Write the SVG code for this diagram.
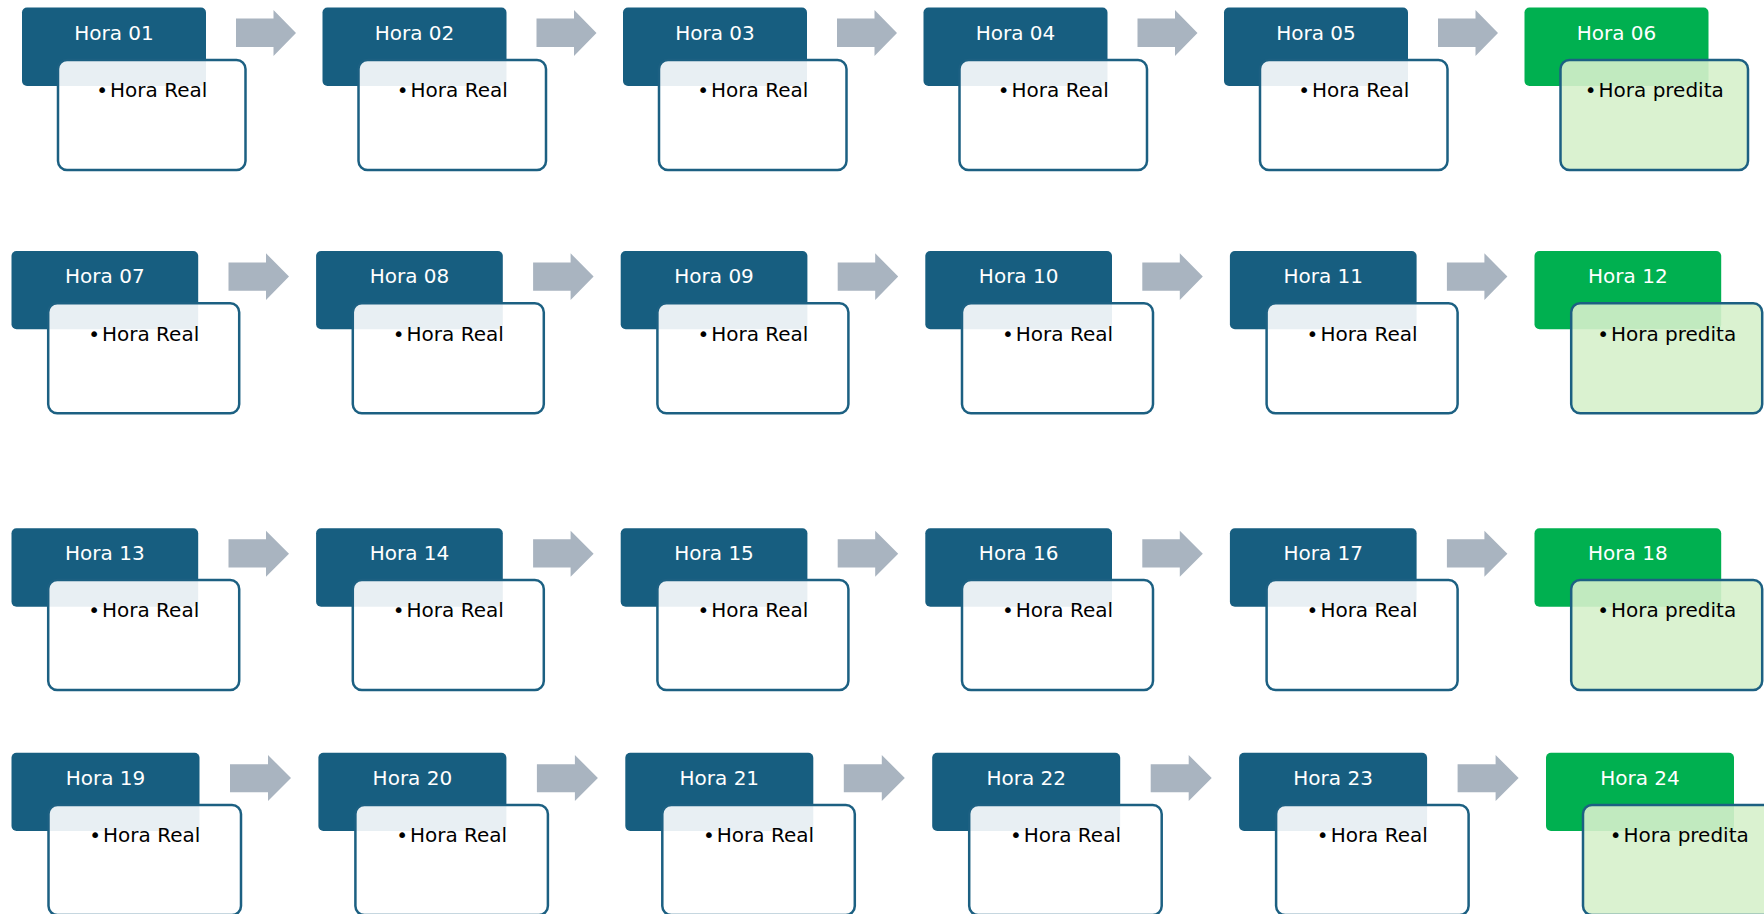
<svg xmlns="http://www.w3.org/2000/svg" width="1764" height="914" viewBox="0 0 1764 914">
  <style>
    .hdr { fill: #175E80; }
    .hdr.pred { fill: #00B050; }
    .body { fill: #FFFFFF; fill-opacity: 0.9; stroke: #1C6082; stroke-width: 2.5; }
    .body.pred { fill: #D6F1CB; }
    .arrow { fill: #A9B4C0; }
    .ht { font-family: "DejaVu Sans", "Liberation Sans", sans-serif; font-size: 20px; fill: #FFFFFF; text-anchor: middle; }
    .bt { font-family: "DejaVu Sans", "Liberation Sans", sans-serif; font-size: 20px; fill: #000000; text-anchor: middle; }
  </style>
  <rect width="1764" height="914" fill="#FFFFFF"/>

  <!-- arrows between consecutive hours -->
  <g id="connectors">
    <!-- row 1 -->
    <polygon class="arrow" points="236,18.5 273.5,18.5 273.5,10 296,33 273.5,56 273.5,47 236,47"/>
    <polygon class="arrow" points="536.5,18.5 574,18.5 574,10 596.5,33 574,56 574,47 536.5,47"/>
    <polygon class="arrow" points="837,18.5 874.5,18.5 874.5,10 897,33 874.5,56 874.5,47 837,47"/>
    <polygon class="arrow" points="1137.5,18.5 1175,18.5 1175,10 1197.5,33 1175,56 1175,47 1137.5,47"/>
    <polygon class="arrow" points="1438,18.5 1475.5,18.5 1475.5,10 1498,33 1475.5,56 1475.5,47 1438,47"/>
    <!-- row 2 -->
    <polygon class="arrow" points="228.5,262.5 266,262.5 266,253.3 289,276.6 266,300 266,290.8 228.5,290.8"/>
    <polygon class="arrow" points="533.1,262.5 570.6,262.5 570.6,253.3 593.6,276.6 570.6,300 570.6,290.8 533.1,290.8"/>
    <polygon class="arrow" points="837.7,262.5 875.2,262.5 875.2,253.3 898.2,276.6 875.2,300 875.2,290.8 837.7,290.8"/>
    <polygon class="arrow" points="1142.3,262.5 1179.8,262.5 1179.8,253.3 1202.8,276.6 1179.8,300 1179.8,290.8 1142.3,290.8"/>
    <polygon class="arrow" points="1446.9,262.5 1484.4,262.5 1484.4,253.3 1507.4,276.6 1484.4,300 1484.4,290.8 1446.9,290.8"/>
    <!-- row 3 -->
    <polygon class="arrow" points="228.5,539.3 266,539.3 266,530.7 289,553.7 266,576.7 266,567.5 228.5,567.5"/>
    <polygon class="arrow" points="533.1,539.3 570.6,539.3 570.6,530.7 593.6,553.7 570.6,576.7 570.6,567.5 533.1,567.5"/>
    <polygon class="arrow" points="837.7,539.3 875.2,539.3 875.2,530.7 898.2,553.7 875.2,576.7 875.2,567.5 837.7,567.5"/>
    <polygon class="arrow" points="1142.3,539.3 1179.8,539.3 1179.8,530.7 1202.8,553.7 1179.8,576.7 1179.8,567.5 1142.3,567.5"/>
    <polygon class="arrow" points="1446.9,539.3 1484.4,539.3 1484.4,530.7 1507.4,553.7 1484.4,576.7 1484.4,567.5 1446.9,567.5"/>
    <!-- row 4 -->
    <polygon class="arrow" points="230,764.3 268,764.3 268,755 291,778 268,801 268,792.3 230,792.3"/>
    <polygon class="arrow" points="536.9,764.3 574.9,764.3 574.9,755 597.9,778 574.9,801 574.9,792.3 536.9,792.3"/>
    <polygon class="arrow" points="843.8,764.3 881.8,764.3 881.8,755 904.8,778 881.8,801 881.8,792.3 843.8,792.3"/>
    <polygon class="arrow" points="1150.7,764.3 1188.7,764.3 1188.7,755 1211.7,778 1188.7,801 1188.7,792.3 1150.7,792.3"/>
    <polygon class="arrow" points="1457.6,764.3 1495.6,764.3 1495.6,755 1518.6,778 1495.6,801 1495.6,792.3 1457.6,792.3"/>
  </g>

  <!-- row 1 -->
  <g id="hora-01">
    <rect class="hdr" x="22" y="7.5" width="184" height="78.5" rx="5"/>
    <text class="ht" x="114" y="40">Hora 01</text>
    <rect class="body" x="58" y="60" width="187.5" height="110" rx="9"/>
    <text class="bt" x="151.75" y="97">•<tspan dx="2">Hora Real</tspan></text>
  </g>
  <g id="hora-02">
    <rect class="hdr" x="322.5" y="7.5" width="184" height="78.5" rx="5"/>
    <text class="ht" x="414.5" y="40">Hora 02</text>
    <rect class="body" x="358.5" y="60" width="187.5" height="110" rx="9"/>
    <text class="bt" x="452.25" y="97">•<tspan dx="2">Hora Real</tspan></text>
  </g>
  <g id="hora-03">
    <rect class="hdr" x="623" y="7.5" width="184" height="78.5" rx="5"/>
    <text class="ht" x="715" y="40">Hora 03</text>
    <rect class="body" x="659" y="60" width="187.5" height="110" rx="9"/>
    <text class="bt" x="752.75" y="97">•<tspan dx="2">Hora Real</tspan></text>
  </g>
  <g id="hora-04">
    <rect class="hdr" x="923.5" y="7.5" width="184" height="78.5" rx="5"/>
    <text class="ht" x="1015.5" y="40">Hora 04</text>
    <rect class="body" x="959.5" y="60" width="187.5" height="110" rx="9"/>
    <text class="bt" x="1053.25" y="97">•<tspan dx="2">Hora Real</tspan></text>
  </g>
  <g id="hora-05">
    <rect class="hdr" x="1224" y="7.5" width="184" height="78.5" rx="5"/>
    <text class="ht" x="1316" y="40">Hora 05</text>
    <rect class="body" x="1260" y="60" width="187.5" height="110" rx="9"/>
    <text class="bt" x="1353.75" y="97">•<tspan dx="2">Hora Real</tspan></text>
  </g>
  <g id="hora-06">
    <rect class="hdr pred" x="1524.5" y="7.5" width="184" height="78.5" rx="5"/>
    <text class="ht" x="1616.5" y="40">Hora 06</text>
    <rect class="body pred" x="1560.5" y="60" width="187.5" height="110" rx="9"/>
    <text class="bt" x="1654.25" y="97">•<tspan dx="2">Hora predita</tspan></text>
  </g>

  <!-- row 2 -->
  <g id="hora-07">
    <rect class="hdr" x="11.5" y="251" width="186.7" height="78.3" rx="5"/>
    <text class="ht" x="104.85" y="283">Hora 07</text>
    <rect class="body" x="48.2" y="303.3" width="191" height="110" rx="9"/>
    <text class="bt" x="143.7" y="340.5">•<tspan dx="2">Hora Real</tspan></text>
  </g>
  <g id="hora-08">
    <rect class="hdr" x="316.1" y="251" width="186.7" height="78.3" rx="5"/>
    <text class="ht" x="409.45" y="283">Hora 08</text>
    <rect class="body" x="352.8" y="303.3" width="191" height="110" rx="9"/>
    <text class="bt" x="448.3" y="340.5">•<tspan dx="2">Hora Real</tspan></text>
  </g>
  <g id="hora-09">
    <rect class="hdr" x="620.7" y="251" width="186.7" height="78.3" rx="5"/>
    <text class="ht" x="714.05" y="283">Hora 09</text>
    <rect class="body" x="657.4" y="303.3" width="191" height="110" rx="9"/>
    <text class="bt" x="752.9" y="340.5">•<tspan dx="2">Hora Real</tspan></text>
  </g>
  <g id="hora-10">
    <rect class="hdr" x="925.3" y="251" width="186.7" height="78.3" rx="5"/>
    <text class="ht" x="1018.65" y="283">Hora 10</text>
    <rect class="body" x="962" y="303.3" width="191" height="110" rx="9"/>
    <text class="bt" x="1057.5" y="340.5">•<tspan dx="2">Hora Real</tspan></text>
  </g>
  <g id="hora-11">
    <rect class="hdr" x="1229.9" y="251" width="186.7" height="78.3" rx="5"/>
    <text class="ht" x="1323.25" y="283">Hora 11</text>
    <rect class="body" x="1266.6" y="303.3" width="191" height="110" rx="9"/>
    <text class="bt" x="1362.1" y="340.5">•<tspan dx="2">Hora Real</tspan></text>
  </g>
  <g id="hora-12">
    <rect class="hdr pred" x="1534.5" y="251" width="186.7" height="78.3" rx="5"/>
    <text class="ht" x="1627.85" y="283">Hora 12</text>
    <rect class="body pred" x="1571.2" y="303.3" width="191" height="110" rx="9"/>
    <text class="bt" x="1666.7" y="340.5">•<tspan dx="2">Hora predita</tspan></text>
  </g>

  <!-- row 3 -->
  <g id="hora-13">
    <rect class="hdr" x="11.5" y="528.3" width="186.7" height="78.4" rx="5"/>
    <text class="ht" x="104.85" y="560">Hora 13</text>
    <rect class="body" x="48.2" y="580" width="191" height="110" rx="9"/>
    <text class="bt" x="143.7" y="617.3">•<tspan dx="2">Hora Real</tspan></text>
  </g>
  <g id="hora-14">
    <rect class="hdr" x="316.1" y="528.3" width="186.7" height="78.4" rx="5"/>
    <text class="ht" x="409.45" y="560">Hora 14</text>
    <rect class="body" x="352.8" y="580" width="191" height="110" rx="9"/>
    <text class="bt" x="448.3" y="617.3">•<tspan dx="2">Hora Real</tspan></text>
  </g>
  <g id="hora-15">
    <rect class="hdr" x="620.7" y="528.3" width="186.7" height="78.4" rx="5"/>
    <text class="ht" x="714.05" y="560">Hora 15</text>
    <rect class="body" x="657.4" y="580" width="191" height="110" rx="9"/>
    <text class="bt" x="752.9" y="617.3">•<tspan dx="2">Hora Real</tspan></text>
  </g>
  <g id="hora-16">
    <rect class="hdr" x="925.3" y="528.3" width="186.7" height="78.4" rx="5"/>
    <text class="ht" x="1018.65" y="560">Hora 16</text>
    <rect class="body" x="962" y="580" width="191" height="110" rx="9"/>
    <text class="bt" x="1057.5" y="617.3">•<tspan dx="2">Hora Real</tspan></text>
  </g>
  <g id="hora-17">
    <rect class="hdr" x="1229.9" y="528.3" width="186.7" height="78.4" rx="5"/>
    <text class="ht" x="1323.25" y="560">Hora 17</text>
    <rect class="body" x="1266.6" y="580" width="191" height="110" rx="9"/>
    <text class="bt" x="1362.1" y="617.3">•<tspan dx="2">Hora Real</tspan></text>
  </g>
  <g id="hora-18">
    <rect class="hdr pred" x="1534.5" y="528.3" width="186.7" height="78.4" rx="5"/>
    <text class="ht" x="1627.85" y="560">Hora 18</text>
    <rect class="body pred" x="1571.2" y="580" width="191" height="110" rx="9"/>
    <text class="bt" x="1666.7" y="617.3">•<tspan dx="2">Hora predita</tspan></text>
  </g>

  <!-- row 4 -->
  <g id="hora-19">
    <rect class="hdr" x="11.5" y="752.7" width="188" height="78.3" rx="5"/>
    <text class="ht" x="105.5" y="784.5">Hora 19</text>
    <rect class="body" x="48.5" y="805" width="192.5" height="110" rx="9"/>
    <text class="bt" x="144.75" y="842">•<tspan dx="2">Hora Real</tspan></text>
  </g>
  <g id="hora-20">
    <rect class="hdr" x="318.4" y="752.7" width="188" height="78.3" rx="5"/>
    <text class="ht" x="412.4" y="784.5">Hora 20</text>
    <rect class="body" x="355.4" y="805" width="192.5" height="110" rx="9"/>
    <text class="bt" x="451.65" y="842">•<tspan dx="2">Hora Real</tspan></text>
  </g>
  <g id="hora-21">
    <rect class="hdr" x="625.3" y="752.7" width="188" height="78.3" rx="5"/>
    <text class="ht" x="719.3" y="784.5">Hora 21</text>
    <rect class="body" x="662.3" y="805" width="192.5" height="110" rx="9"/>
    <text class="bt" x="758.55" y="842">•<tspan dx="2">Hora Real</tspan></text>
  </g>
  <g id="hora-22">
    <rect class="hdr" x="932.2" y="752.7" width="188" height="78.3" rx="5"/>
    <text class="ht" x="1026.2" y="784.5">Hora 22</text>
    <rect class="body" x="969.2" y="805" width="192.5" height="110" rx="9"/>
    <text class="bt" x="1065.45" y="842">•<tspan dx="2">Hora Real</tspan></text>
  </g>
  <g id="hora-23">
    <rect class="hdr" x="1239.1" y="752.7" width="188" height="78.3" rx="5"/>
    <text class="ht" x="1333.1" y="784.5">Hora 23</text>
    <rect class="body" x="1276.1" y="805" width="192.5" height="110" rx="9"/>
    <text class="bt" x="1372.35" y="842">•<tspan dx="2">Hora Real</tspan></text>
  </g>
  <g id="hora-24">
    <rect class="hdr pred" x="1546" y="752.7" width="188" height="78.3" rx="5"/>
    <text class="ht" x="1640" y="784.5">Hora 24</text>
    <rect class="body pred" x="1583" y="805" width="192.5" height="110" rx="9"/>
    <text class="bt" x="1679.25" y="842">•<tspan dx="2">Hora predita</tspan></text>
  </g>
</svg>
